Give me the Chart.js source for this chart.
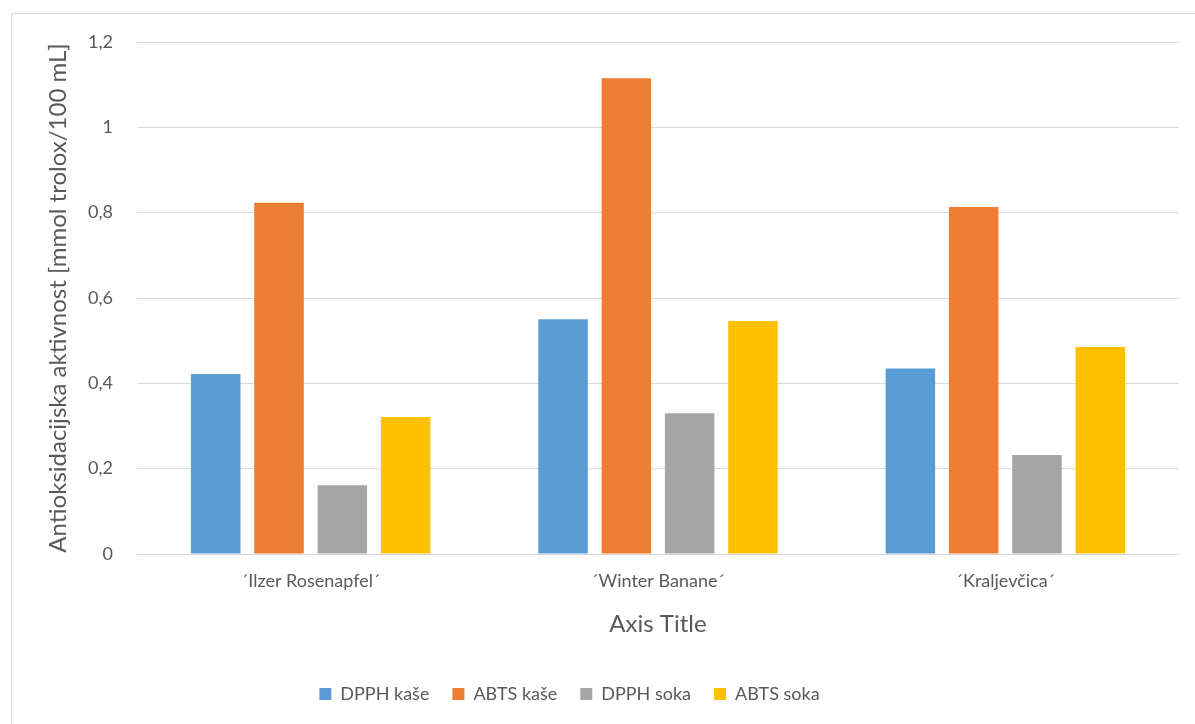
<!DOCTYPE html>
<html>
<head>
<meta charset="utf-8">
<script src="https://cdn.jsdelivr.net/npm/chart.js@4.4.1/dist/chart.umd.min.js"></script>
<style>
  html, body { margin: 0; padding: 0; background: #ffffff; }
  #wrap { width: 1195px; height: 724px; position: relative; }
</style>
</head>
<body>
<div id="wrap"><canvas id="antioxChart"></canvas></div>
<script>
const categories = ["\u00B4Ilzer Rosenapfel\u00B4", "\u00B4Winter Banane\u00B4", "\u00B4Kraljev\u010Dica\u00B4"];
const dpphKase = [0.422, 0.550, 0.435];
const abtsKase = [0.823, 1.115, 0.813];
const dpphSoka = [0.161, 0.330, 0.232];
const abtsSoka = [0.321, 0.546, 0.485];
const yTicks = [0, 0.2, 0.4, 0.6, 0.8, 1, 1.2];

const textColor = "#595959";
const gridColor = "#d9d9d9";
const fontFamily = "Lato, 'Open Sans', sans-serif";

const frame = {
  id: "frame",
  beforeDraw(chart) {
    const ctx = chart.ctx;
    ctx.save();
    ctx.fillStyle = "#ffffff";
    ctx.fillRect(0, 0, chart.width, chart.height);
    ctx.strokeStyle = gridColor;
    ctx.lineWidth = 1;
    ctx.strokeRect(11.5, 13.5, 1200, 730);
    ctx.restore();
  },
};

function makeSet(label, data, color) {
  return {
    label: label,
    data: data,
    backgroundColor: color,
    borderWidth: 0,
    barPercentage: 0.782,
    categoryPercentage: 0.729,
  };
}

const ctx = document.getElementById("antioxChart").getContext("2d");
new Chart(ctx, {
  type: "bar",
  data: {
    labels: categories,
    datasets: [
      makeSet("DPPH ka\u0161e", dpphKase, "#5b9bd5"),
      makeSet("ABTS ka\u0161e", abtsKase, "#ed7d31"),
      makeSet("DPPH soka", dpphSoka, "#a5a5a5"),
      makeSet("ABTS soka", abtsSoka, "#ffc000"),
    ],
  },
  options: {
    responsive: true,
    maintainAspectRatio: false,
    animation: false,
    layout: { padding: { left: -40, right: 16, top: 42, bottom: 11 } },
    plugins: {
      legend: {
        position: "bottom",
        labels: {
          color: textColor,
          font: { family: fontFamily, size: 18 },
          boxWidth: 12,
          boxHeight: 12,
          padding: 23,
        },
      },
      tooltip: { enabled: false },
    },
    scales: {
      x: {
        grid: { display: false, drawTicks: false },
        border: { display: false },
        ticks: {
          color: textColor,
          font: { family: fontFamily, size: 18 },
          padding: 16,
        },
        title: {
          display: true,
          text: "Axis Title",
          color: textColor,
          font: { family: fontFamily, size: 24 },
          padding: { top: 0, bottom: 23 },
        },
        afterFit: (scale) => { scale.height = 108; },
      },
      y: {
        min: 0,
        max: 1.2,
        afterBuildTicks: (scale) => { scale.ticks = yTicks.map((v) => ({ value: v })); },
        grid: { color: gridColor, lineWidth: 1, drawTicks: false },
        border: { display: false },
        ticks: {
          color: textColor,
          font: { family: fontFamily, size: 18 },
          padding: 24,
          callback: (v) => String(Number(v.toFixed(1))).replace(".", ","),
        },
        title: {
          display: true,
          text: "Antioksidacijska aktivnost [mmol trolox/100 mL]",
          color: textColor,
          font: { family: fontFamily, size: 24 },
          padding: { top: 84, bottom: 0 },
        },
        afterFit: (scale) => { scale.width = 177; },
      },
    },
  },
  plugins: [frame],
});
</script>
</body>
</html>
